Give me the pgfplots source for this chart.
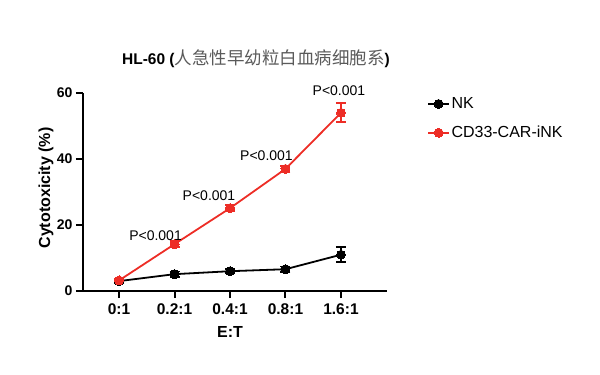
\documentclass[border=0pt]{standalone}
\usepackage{pgfplots}
\pgfplotsset{compat=1.18}
\usepackage{fontspec}
\setmainfont{Liberation Sans}
\newfontfamily\cjk{Noto Sans CJK SC}
\definecolor{cred}{RGB}{237,45,38}
\definecolor{cjkgray}{RGB}{90,90,90}
\begin{document}
\begin{tikzpicture}[x=1pt,y=1pt]
\path[use as bounding box] (-83,-84) rectangle (517,291);
\begin{axis}[
  at={(0,0)}, anchor=south west,
  scale only axis, width=304pt, height=198pt,
  xmin=-0.65, xmax=4.83, ymin=0, ymax=60,
  clip=false,
  axis x line*=bottom, axis y line*=left,
  axis line style={line width=2pt, black},
  xtick={0,1,2,3,4},
  xticklabels={0:1,0.2:1,0.4:1,0.8:1,1.6:1},
  ytick={0,20,40,60},
  yticklabels={0,20,40,60},
  tick align=outside,
  major tick length=7pt,
  tick style={line width=2pt, black},
  xticklabel style={font=\fontsize{15.5}{18}\selectfont\bfseries, yshift=-2pt},
  yticklabel style={font=\fontsize{14}{17}\selectfont\bfseries},
  xlabel={E:T},
  ylabel={Cytotoxicity (\%)},
  label style={font=\fontsize{16}{19}\selectfont\bfseries},
  xlabel style={at={(axis cs:2,0)}, anchor=center, yshift=-41pt},
  ylabel style={at={(axis description cs:-0.1217,0.52)}, anchor=center},
  title={{\bfseries HL-60 (}{\cjk\color{cjkgray}\fontsize{17.5}{20}\selectfont 人急性早幼粒白血病细胞系}{\bfseries )}},
  title style={at={(axis description cs:0.569,1)}, anchor=center, yshift=28pt, font=\fontsize{15.5}{18}\selectfont},
  legend style={at={(axis description cs:1.1316,0.985)}, anchor=north west, draw=none, fill=none,
    font=\fontsize{16}{19}\selectfont, row sep=13pt, inner sep=0pt,
    nodes={inner sep=1.5pt}},
  legend cell align=left,
  legend image code/.code={\draw[mark repeat=2,mark phase=2] plot coordinates {(0pt,0pt) (10.5pt,0pt) (21pt,0pt)};},
  every axis plot/.append style={line width=1.8pt},
]
\addplot+[black, mark=*, mark size=4.5pt, mark options={fill=black, line width=0pt},
  error bars/.cd, y dir=both, y explicit,
  error bar style={line width=1.8pt, black},
  error mark options={rotate=90, mark size=5pt, line width=1.8pt, black}]
  coordinates {
  (0,3) +- (0,0.5)
  (1,5.1) +- (0,0.8)
  (2,6.0) +- (0,0.6)
  (3,6.6) +- (0,0.8)
  (4,11.0) +- (0,2.3)
  };
\addlegendentry{NK}
\addplot+[cred, mark=*, mark size=4.5pt, mark options={fill=cred, line width=0pt},
  error bars/.cd, y dir=both, y explicit,
  error bar style={line width=1.8pt, cred},
  error mark options={rotate=90, mark size=5pt, line width=1.8pt, cred}]
  coordinates {
  (0,3.2) +- (0,0.5)
  (1,14.2) +- (0,0.9)
  (2,25.1) +- (0,0.9)
  (3,37.0) +- (0,0.9)
  (4,54.0) +- (0,2.9)
  };
\addlegendentry{CD33-CAR-iNK}
\node[anchor=base, font=\fontsize{14}{17}\selectfont, xshift=-19pt] at (axis cs:1,15.45) {P<0.001};
\node[anchor=base, font=\fontsize{14}{17}\selectfont, xshift=-21pt] at (axis cs:2,27.3) {P<0.001};
\node[anchor=base, font=\fontsize{14}{17}\selectfont, xshift=-19pt] at (axis cs:3,39.4) {P<0.001};
\node[anchor=base, font=\fontsize{14}{17}\selectfont, xshift=-2pt] at (axis cs:4,59.1) {P<0.001};
\end{axis}
\end{tikzpicture}
\end{document}
